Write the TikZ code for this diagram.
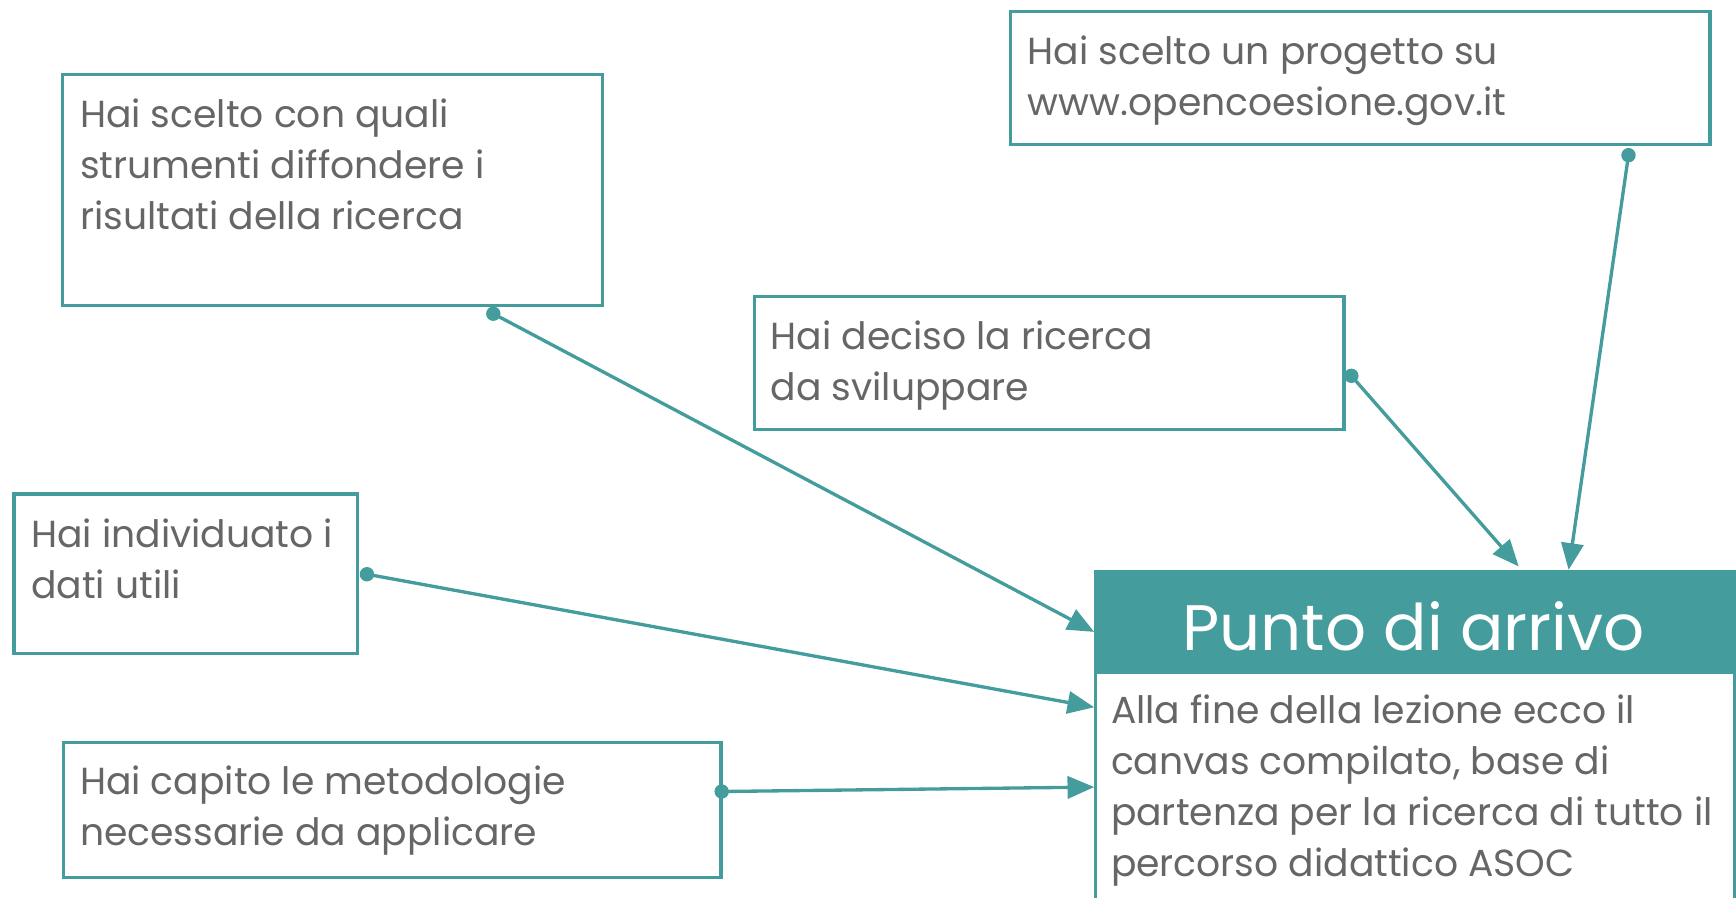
\documentclass[tikz,border=0pt]{standalone}
\usepackage{fontspec}
\setmainfont{Poppins}
\usetikzlibrary{arrows.meta,calc}
\definecolor{teal1}{HTML}{449C9C}
\definecolor{txt}{HTML}{666666}
\begin{document}
\begin{tikzpicture}[x=1pt,y=-1pt,
  box/.style={draw=teal1,line width=3pt,rectangle,inner sep=0pt,anchor=north west},
  lbl/.style={anchor=base west,inner sep=0pt,text=txt,font=\fontsize{34}{46}\selectfont},
  conn/.style={draw=teal1,line width=3pt,-{Triangle[length=24pt,width=20pt]}},
  dotc/.style={fill=teal1}]
\useasboundingbox (0,0) rectangle (1566,810);
% boxes
\node[box,minimum width=487pt,minimum height=208pt] (boxA) at (55,66) {};
\node[box,minimum width=631pt,minimum height=120pt] (boxB) at (910,9) {};
\node[box,minimum width=532pt,minimum height=120pt] (boxC) at (679,266) {};
\node[box,minimum width=310pt,minimum height=144pt] (boxD) at (11,444) {};
\node[box,minimum width=593pt,minimum height=122pt] (boxE) at (56,668) {};
\node[fill=teal1,draw=teal1,line width=3pt,anchor=north west,inner sep=0pt,minimum width=576pt,minimum height=91pt] (head) at (987,514) {};
\node[box,minimum width=576pt,minimum height=240pt] (body) at (987,605) {};
% texts
\node[lbl] (tA) at (72,115) {\parbox[t]{520pt}{\raggedright Hai scelto con quali\\strumenti diffondere i\\risultati della ricerca}};
\node[lbl] (tB) at (927,58) {\parbox[t]{640pt}{\raggedright Hai scelto un progetto su\\www.opencoesione.gov.it}};
\node[lbl] (tC) at (695,315) {\parbox[t]{540pt}{\raggedright Hai deciso la ricerca\\da sviluppare}};
\node[lbl] (tD) at (28,494) {\parbox[t]{340pt}{\raggedright Hai individuato i\\dati utili}};
\node[lbl] (tE) at (72,717) {\parbox[t]{620pt}{\raggedright Hai capito le metodologie\\necessarie da applicare}};
\node[lbl] (tBody) at (1002,653) {\parbox[t]{600pt}{\raggedright Alla fine della lezione ecco il\\canvas compilato, base di\\partenza per la ricerca di tutto il\\percorso didattico ASOC}};
\node[anchor=base,inner sep=0pt,text=white,font=\fontsize{58}{60}\selectfont] (headt) at (1275,587) {Punto di arrivo};
% connector ends
\coordinate (sA) at ($(boxA.south west)+(390,6)$);
\coordinate (eA) at ($(head.north west)+(0,56)$);
\coordinate (sB) at ($(boxB.south west)+(559,8)$);
\coordinate (eB) at ($(head.north west)+(428,0)$);
\coordinate (sC) at ($(boxC.north east)+(5,73)$);
\coordinate (eC) at ($(head.north west)+(383,-3)$);
\coordinate (sD) at ($(boxD.north east)+(7,74)$);
\coordinate (eD) at ($(body.north west)+(0,33)$);
\coordinate (sE) at ($(boxE.north east)+(-1,46)$);
\coordinate (eE) at ($(body.north west)+(0,105)$);
% connectors
\draw[conn] (sA) -- (eA);
\draw[conn] (sB) -- (eB);
\draw[conn] (sC) -- (eC);
\draw[conn] (sD) -- (eD);
\draw[conn] (sE) -- (eE);
\foreach \p in {sA,sB,sC,sD,sE} \fill[dotc] (\p) circle[radius=6.5pt];
\end{tikzpicture}
\end{document}
